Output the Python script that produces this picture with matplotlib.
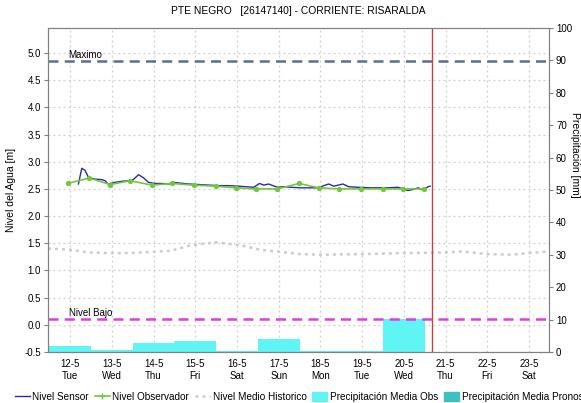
import matplotlib
matplotlib.use("Agg")
import matplotlib.pyplot as plt
import numpy as np
from matplotlib.lines import Line2D
from matplotlib.patches import Patch

plt.rcParams['font.family'] = ['Liberation Sans', 'DejaVu Sans']

# x in days from 12-5 (tick positions 0..11)
day_labels = ["12-5", "13-5", "14-5", "15-5", "16-5", "17-5",
              "18-5", "19-5", "20-5", "21-5", "22-5", "23-5"]
weekday_labels = ["Tue", "Wed", "Thu", "Fri", "Sat", "Sun",
                  "Mon", "Tue", "Wed", "Thu", "Fri", "Sat"]

# Nivel Sensor [m]
sensor_t = [0.20, 0.28, 0.36, 0.44, 0.60, 0.76, 0.84, 0.91, 1.08, 1.24, 1.39,
            1.51, 1.64, 1.75, 1.88, 2.04, 2.20, 2.36, 2.48, 2.60, 2.84, 3.08,
            3.32, 3.56, 3.80, 4.04, 4.21, 4.40, 4.54, 4.64, 4.76, 4.86, 4.98,
            5.12, 5.29, 5.53, 5.77, 5.96, 6.08, 6.20, 6.32, 6.54, 6.68, 6.90,
            7.21, 7.62, 7.86, 8.10, 8.22, 8.34, 8.46, 8.58, 8.63]
sensor_v = [2.59, 2.88, 2.84, 2.71, 2.68, 2.67, 2.65, 2.59, 2.62, 2.64, 2.65,
            2.67, 2.76, 2.71, 2.62, 2.60, 2.60, 2.59, 2.62, 2.61, 2.59, 2.58,
            2.57, 2.56, 2.56, 2.55, 2.54, 2.53, 2.60, 2.57, 2.59, 2.56, 2.53,
            2.54, 2.53, 2.52, 2.52, 2.52, 2.56, 2.59, 2.55, 2.59, 2.54, 2.53,
            2.52, 2.52, 2.53, 2.47, 2.49, 2.52, 2.48, 2.54, 2.55]

# Nivel Observador [m]
obs_t = [-0.06, 0.46, 0.96, 1.44, 1.96, 2.44, 2.96, 3.49, 3.97,
         4.45, 4.97, 5.49, 5.96, 6.44, 6.97, 7.49, 7.97, 8.48]
obs_v = [2.60, 2.70, 2.58, 2.65, 2.57, 2.60, 2.57, 2.55, 2.52,
         2.50, 2.50, 2.60, 2.52, 2.50, 2.50, 2.50, 2.50, 2.50]

# Nivel Medio Historico [m]
hist_t = [-0.53, -0.43, 0.0, 0.48, 0.96, 1.44, 1.92, 2.40, 2.88, 3.49, 4.09,
          4.57, 5.05, 5.53, 6.0, 7.0, 8.0, 9.0, 9.4, 10.0, 10.6, 11.0, 11.5]
hist_v = [1.40, 1.40, 1.38, 1.33, 1.32, 1.32, 1.34, 1.36, 1.46, 1.52, 1.46,
          1.38, 1.34, 1.30, 1.29, 1.30, 1.32, 1.33, 1.35, 1.30, 1.29, 1.32, 1.35]

# Precipitacion media observada [mm], one bar per day (11-5 .. 20-5)
precip_day = [-1, 0, 1, 2, 3, 4, 5, 6, 7, 8]
precip_mm = [16.5, 1.9, 0.6, 2.8, 3.4, 0.3, 4.0, 0.4, 0.4, 10.2]

nivel_maximo = 4.85
nivel_bajo = 0.1
ahora = 8.68

ylo, yhi = -0.5, 5.46

fig = plt.figure(figsize=(5.81, 4.03), dpi=100)
ax2 = fig.add_axes([0.0826, 0.1266, 0.8624, 0.8039])
ax = ax2.twinx()
ax.set_zorder(ax2.get_zorder() + 1)
ax.patch.set_visible(False)

grid_kw = dict(color='#cfcfcf', linestyle=(0, (1.5, 2.5)), linewidth=0.9, zorder=0)

# precipitation on the right scale (behind)
ax2.set_ylim(0, 100)
ax2.set_xlim(-0.53, 11.48)
for d in range(len(day_labels)):
    ax2.axvline(d, **grid_kw)
level_ticks = np.arange(-0.5, 5.01, 0.5)
for v in level_ticks:
    ax2.axhline((v - ylo) / (yhi - ylo) * 100, **grid_kw)
ax2.bar(precip_day, precip_mm, width=1.0, color='#5ff5f5', zorder=2, linewidth=0)
ax2.yaxis.tick_right()
ax2.set_yticks(np.arange(0, 101, 10))
ax2.tick_params(axis='y', labelsize=7, length=3, color='#808080', pad=2)
ax2.set_xticks(range(len(day_labels)))
ax2.set_xticklabels([f"{a}\n{b}" for a, b in zip(day_labels, weekday_labels)],
                    fontsize=7, linespacing=1.25)
ax2.tick_params(axis='x', length=0, pad=5)

# level on the left scale (front)
ax.yaxis.tick_left()
ax.yaxis.set_label_position('left')
ax.set_ylim(ylo, yhi)
ax.set_xlim(-0.53, 11.48)
ax.set_yticks(level_ticks)
ax.set_yticklabels([f"{v:.1f}" for v in level_ticks])
ax.tick_params(axis='y', labelsize=7, length=3, color='#808080', pad=2)

ax.axhline(nivel_maximo, color='#5b6f8f', linestyle=(0, (4, 2.5)), linewidth=1.8)
ax.axhline(nivel_bajo, color='#e03ce0', linestyle=(0, (4, 2.5)), linewidth=1.8)
ax.text(-0.05, nivel_maximo + 0.03, "Maximo", fontsize=7, ha='left', va='bottom')
ax.text(-0.03, nivel_bajo + 0.03, "Nivel Bajo", fontsize=7, ha='left', va='bottom')

ax.plot(hist_t, hist_v, color='#cccccc', linestyle=(0, (1.2, 1.6)), linewidth=1.8)
ax.plot(sensor_t, sensor_v, color='#2b2ba8', linewidth=1.0)
ax.plot(obs_t, obs_v, color='#72c83a', linewidth=1.2, marker='o', markersize=2.8)
ax.axvline(ahora, color='#c84040', linewidth=1.0)

for a in (ax, ax2):
    for s in a.spines.values():
        s.set_color('#808080')

ax.set_ylabel("Nivel del Agua [m]", fontsize=7.5, labelpad=6)
fig.text(0.99, 0.615, "Precipitación [mm]", rotation=270, fontsize=7.5,
         ha='center', va='center')
fig.suptitle("PTE NEGRO   [26147140] - CORRIENTE: RISARALDA", fontsize=7.4,
             x=0.513, y=0.985)

handles = [
    Line2D([], [], color='#2b2ba8', linewidth=1.0),
    Line2D([], [], color='#72c83a', linewidth=1.2, marker='+', markersize=5),
    Line2D([], [], color='#cccccc', linestyle=(0, (1.2, 1.6)), linewidth=1.8),
    Patch(color='#5ff5f5'),
    Patch(color='#3cc0c0'),
]
labels = ["Nivel Sensor", "Nivel Observador", "Nivel Medio Historico",
          "Precipitación Media Obs", "Precipitación Media Pronosticada"]
fig.legend(handles, labels, loc='lower left', bbox_to_anchor=(0.01, -0.02),
           ncol=5, frameon=False, fontsize=7.2, handlelength=1.5,
           handletextpad=0.25, columnspacing=0.6, handleheight=1.0)

fig.savefig("out.png", dpi=100)
